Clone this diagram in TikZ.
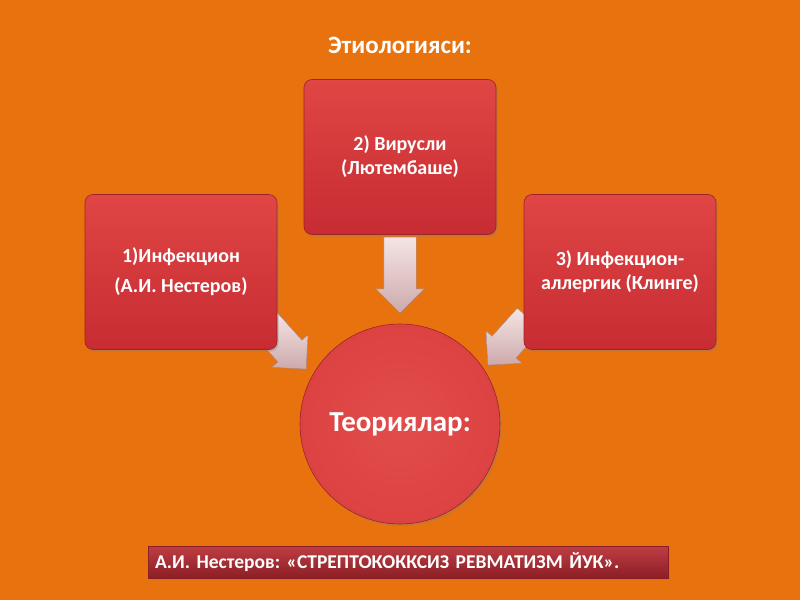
\documentclass[tikz,border=0pt]{standalone}
\usepackage{fontspec}
\setmainfont{Carlito}
\frenchspacing
\usetikzlibrary{shapes,arrows,positioning,shadows,calc}

\definecolor{bgorange}{RGB}{231,114,14}
\definecolor{boxtop}{RGB}{224,70,68}
\definecolor{boxbot}{RGB}{198,44,50}
\definecolor{arrtop}{RGB}{245,228,228}
\definecolor{arrbot}{RGB}{205,170,172}
\definecolor{bartop}{RGB}{190,62,66}
\definecolor{barbot}{RGB}{140,30,38}

\tikzset{
  theorybox/.style={rectangle, rounded corners=8pt, minimum width=192pt, minimum height=155pt,
    top color=boxtop, bottom color=boxbot, draw=boxbot!80!black, line width=0.6pt,
    drop shadow={shadow xshift=1.5pt, shadow yshift=-2pt, opacity=0.35},
    text=white, font=\bfseries\fontsize{20}{24}\selectfont, align=center},
  fatarrow/.style={single arrow, minimum height=#1, inner xsep=0pt, inner ysep=16pt,
    single arrow head extend=8pt, single arrow tip angle=90,
    top color=arrtop, bottom color=arrbot, draw=arrbot!80!black, line width=0.4pt},
}

\begin{document}
\begin{tikzpicture}[x=1pt, y=-1pt]
  \fill[bgorange] (0,0) rectangle (800,600);
  \useasboundingbox (0,0) rectangle (800,600);

  \node[text=white, font=\bfseries\fontsize{25}{28}\selectfont] (title) at (400,45) {Этиологияси:};

  % fat arrows behind the boxes
  \node[fatarrow=76pt, rotate=-90] (arrv) at (400,267) {};
  \node[fatarrow=62pt, rotate=-48] (arrl) at (280,340) {};
  \node[fatarrow=62pt, rotate=-132] (arrr) at (514,336) {};

  \node[theorybox] (inf) at (181,272) {1)Инфекцион\\[6pt](А.И. Нестеров)};
  \node[theorybox] (vir) at (400,157) {2) Вирусли\\(Лютембаше)};
  \node[theorybox] (all) at (620,272) {3) Инфекцион-\\аллергик (Клинге)};

  \node[circle, minimum size=200pt, inner color=boxtop!96!white, outer color=boxtop!85!boxbot,
    draw=boxbot!80!black, line width=0.6pt,
    drop shadow={shadow xshift=1.5pt, shadow yshift=-2pt, opacity=0.35},
    text=white, font=\bfseries\fontsize{29}{32}\selectfont] (teo) at (400,424) {Теориялар:};

  \node[rectangle, minimum width=520pt, minimum height=32pt, top color=bartop, bottom color=barbot,
    draw=barbot, drop shadow={shadow xshift=2pt, shadow yshift=-2pt, opacity=0.4},
    text=white, font=\bfseries\fontsize{19.5}{22}\selectfont, text width=506pt, align=left]
    (nest) at (408,562) {А.И. Нестеров: «СТРЕПТОКОККСИЗ РЕВМАТИЗМ ЙУК».};
\end{tikzpicture}
\end{document}
